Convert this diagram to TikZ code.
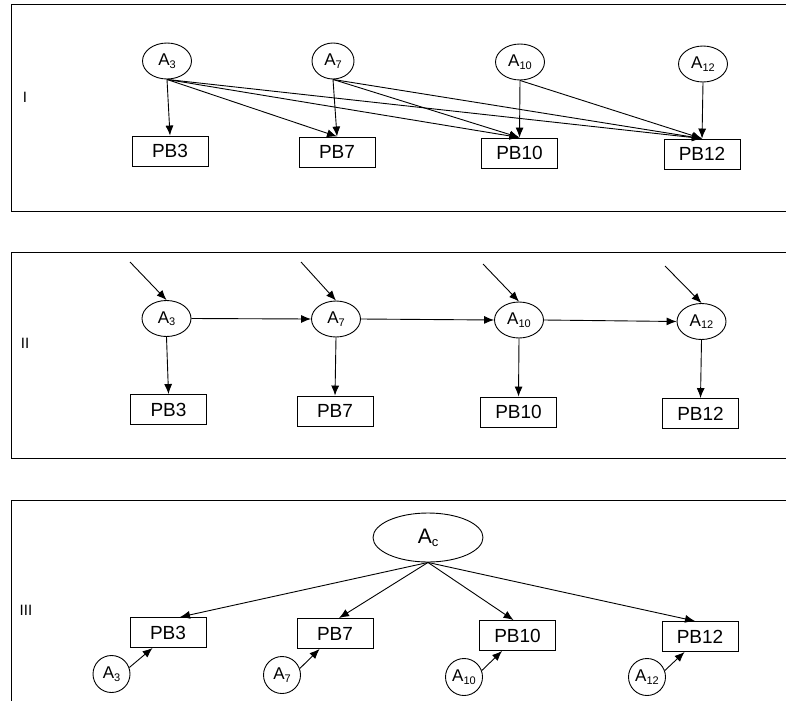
\documentclass[tikz,border=0pt]{standalone}
\usepackage{fontspec}
\setmainfont{Liberation Sans}
\usetikzlibrary{shapes.geometric,arrows.meta,calc}
\newcommand{\mysub}[1]{\raisebox{-2.5pt}{\fontsize{11}{11}\selectfont #1}}
\begin{document}
\begin{tikzpicture}[x=1pt,y=-1pt,
  every node/.style={font=\fontsize{17}{17}\selectfont},
  lat/.style={draw,line width=0.9pt,ellipse,minimum width=49,minimum height=36,inner sep=0pt},
  bigl/.style={draw,line width=0.9pt,ellipse,minimum width=110,minimum height=49,inner sep=0pt,font=\fontsize{21}{21}\selectfont},
  smallc/.style={draw,line width=0.9pt,circle,minimum size=37,inner sep=0pt},
  pbbox/.style={draw,line width=0.9pt,rectangle,minimum width=76,minimum height=30,inner sep=0pt,font=\fontsize{19}{19}\selectfont},
  arr/.style={-{Latex[length=10pt,width=8pt]},line width=0.9pt},
  frameline/.style={line width=1pt},
  plab/.style={font=\fontsize{15}{15}\selectfont}
]
\useasboundingbox (0,0) rectangle (786,701);
% frames
\draw[frameline] (786,5) -- (11,5) -- (11,211) -- (786,211);
\draw[frameline] (786,252) -- (11,252) -- (11,458) -- (786,458);
\draw[frameline] (786,500) -- (11,500) -- (11,701);
\node[plab] (l1) at (25,97) {I};
\node[plab] (l2) at (25,343) {II};
\node[plab] (l3) at (26,610) {III};
% Panel I
\node[lat] (a3) at (167,61) {A\mysub{3}};
\node[lat,minimum width=42] (a7) at (333,61) {A\mysub{7}};
\node[lat] (a10) at (520,62) {A\mysub{10}};
\node[lat] (a12) at (703,64) {A\mysub{12}};
\node[pbbox] (p3) at (170,151) {PB3};
\node[pbbox] (p7) at (337,152) {PB7};
\node[pbbox] (p10) at (519.5,153) {PB10};
\node[pbbox] (p12) at (702,154) {PB12};
\draw[arr] (a3.south) -- (p3.north);
\draw[arr] (a3.south) -- (p7.north);
\draw[arr] (a3.south) -- (p10.north);
\draw[arr] (a3.south) -- (p12.north);
\draw[arr] (a7.south) -- (p7.north);
\draw[arr] (a7.south) -- (p10.north);
\draw[arr] (a7.south) -- (p12.north);
\draw[arr] (a10.south) -- (p10.north);
\draw[arr] (a10.south) -- (p12.north);
\draw[arr] (a12.south) -- (p12.north);
% Panel II
\node[lat] (b3) at (166.5,318.5) {A\mysub{3}};
\node[lat] (b7) at (336,319) {A\mysub{7}};
\node[lat] (b10) at (519,320) {A\mysub{10}};
\node[lat] (b12) at (701.5,321.5) {A\mysub{12}};
\node[pbbox] (q3) at (168.5,409.5) {PB3};
\node[pbbox] (q7) at (335,411) {PB7};
\node[pbbox] (q10) at (518.5,412) {PB10};
\node[pbbox] (q12) at (700.5,413.5) {PB12};
\coordinate (s3) at (130,262);
\coordinate (s7) at (301,262);
\coordinate (s10) at (483,264);
\coordinate (s12) at (665,266);
\draw[arr] (s3) -- (b3.north);
\draw[arr] (s7) -- (b7.north);
\draw[arr] (s10) -- (b10.north);
\draw[arr] (s12) -- (b12.north);
\draw[arr] (b3.east) -- (b7.west);
\draw[arr] (b7.east) -- (b10.west);
\draw[arr] (b10.east) -- (b12.west);
\draw[arr] (b3.south) -- (q3.north);
\draw[arr] (b7.south) -- (q7.north);
\draw[arr] (b10.south) -- (q10.north);
\draw[arr] (b12.south) -- (q12.north);
% Panel III
\node[bigl] (ac) at (428,537.5) {A\raisebox{-3pt}{\fontsize{13}{13}\selectfont c}};
\node[pbbox] (r3) at (168,632.5) {PB3};
\node[pbbox] (r7) at (335,633.5) {PB7};
\node[pbbox] (r10) at (517.5,635.5) {PB10};
\node[pbbox] (r12) at (700,636.5) {PB12};
\node[smallc] (c3) at (111.5,674) {A\mysub{3}};
\node[smallc] (c7) at (282,675) {A\mysub{7}};
\node[smallc] (c10) at (464,677) {A\mysub{10}};
\node[smallc] (c12) at (647,677) {A\mysub{12}};
\draw[arr] (ac.south) -- ($(r3.north)+(12,0)$);
\draw[arr] (ac.south) -- ($(r7.north)+(4,0)$);
\draw[arr] (ac.south) -- ($(r10.north)+(-4,0)$);
\draw[arr] (ac.south) -- ($(r12.north)+(-5,0)$);
\draw[arr] (c3.20) -- ($(r3.south west)+(23,0)$);
\draw[arr] (c7.20) -- ($(r7.south west)+(23,0)$);
\draw[arr] (c10.20) -- ($(r10.south west)+(23,0)$);
\draw[arr] (c12.20) -- ($(r12.south west)+(23,0)$);
\end{tikzpicture}
\end{document}
